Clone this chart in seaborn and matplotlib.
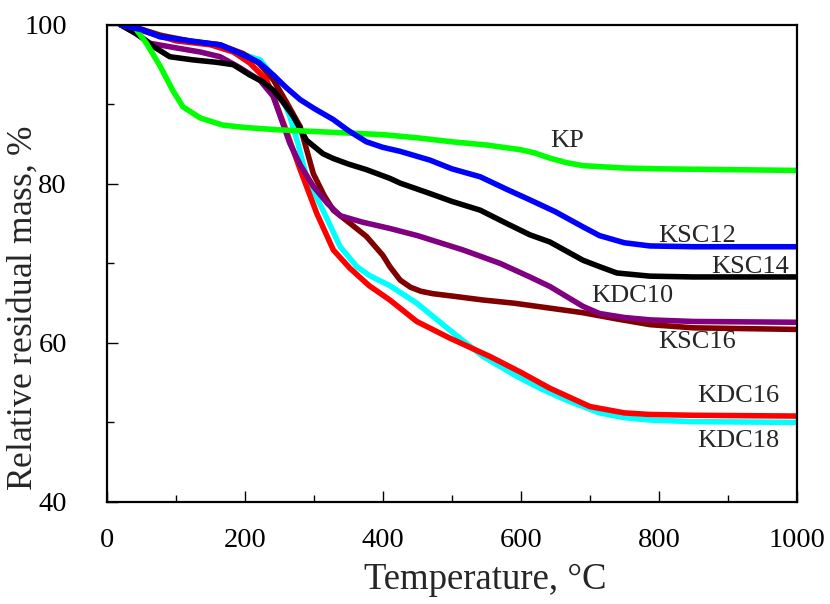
import numpy as np
import pandas as pd
import matplotlib
matplotlib.use("Agg")
import matplotlib.pyplot as plt
import seaborn as sns

# ---- data ----
kp_t = [20, 40, 57, 77, 95, 110, 135, 168, 200, 250, 300, 350, 400, 450, 500, 550, 600, 620, 640, 665, 690, 750, 800, 900, 1000]
kp_m = [100, 99.7, 97.7, 94.8, 91.8, 89.7, 88.3, 87.4, 87.1, 86.8, 86.6, 86.4, 86.2, 85.8, 85.3, 84.9, 84.3, 83.9, 83.3, 82.7, 82.3, 82.0, 81.9, 81.8, 81.7]

ksc12_t = [20, 50, 77, 120, 164, 193, 220, 241, 260, 280, 300, 328, 350, 376, 400, 425, 468, 500, 541, 580, 613, 650, 690, 714, 750, 787, 850, 1000]
ksc12_m = [100, 99.4, 98.5, 98.0, 97.5, 96.4, 95.3, 93.7, 92.1, 90.6, 89.5, 88.1, 86.7, 85.3, 84.6, 84.1, 83.0, 81.9, 80.9, 79.3, 78.0, 76.5, 74.6, 73.5, 72.6, 72.2, 72.1, 72.1]

ksc14_t = [20, 45, 67, 91, 125, 159, 183, 207, 225, 241, 255, 270, 289, 313, 328, 350, 376, 410, 425, 468, 500, 541, 580, 613, 642, 690, 714, 739, 787, 850, 1000]
ksc14_m = [100, 98.8, 97.3, 96.0, 95.6, 95.3, 95.0, 93.7, 92.9, 91.8, 90.3, 88.5, 85.5, 83.8, 83.2, 82.5, 81.8, 80.7, 80.1, 78.8, 77.8, 76.7, 75.0, 73.6, 72.7, 70.4, 69.6, 68.8, 68.4, 68.3, 68.3]

kdc10_t = [20, 40, 62, 101, 135, 164, 193, 222, 241, 265, 280, 299, 320, 338, 370, 410, 450, 516, 570, 613, 642, 665, 690, 714, 750, 787, 850, 1000]
kdc10_m = [100, 99.0, 97.7, 97.1, 96.6, 96.0, 94.6, 93.0, 91.0, 85.1, 82.4, 79.7, 77.5, 76.0, 75.2, 74.4, 73.5, 71.7, 70.0, 68.3, 67.1, 65.9, 64.6, 63.7, 63.2, 62.9, 62.7, 62.6]

ksc16_t = [20, 38, 77, 125, 164, 197, 220, 241, 260, 280, 299, 315, 328, 350, 376, 400, 410, 425, 440, 455, 472, 500, 545, 590, 640, 690, 740, 787, 850, 1000]
ksc16_m = [100, 99.8, 98.7, 97.9, 97.5, 96.4, 95.2, 93.1, 90.3, 87.2, 81.3, 78.5, 76.7, 75.2, 73.4, 71.0, 69.6, 67.9, 67.0, 66.5, 66.2, 65.9, 65.4, 65.0, 64.4, 63.8, 63.0, 62.3, 61.9, 61.7]

kdc16_t = [20, 50, 100, 150, 183, 207, 231, 241, 256, 280, 304, 328, 352, 380, 410, 449, 497, 555, 600, 642, 700, 750, 787, 850, 1000]
kdc16_m = [100, 99.3, 98.0, 97.5, 96.6, 95.2, 93.1, 91.0, 87.6, 81.8, 76.3, 71.7, 69.4, 67.2, 65.4, 62.7, 60.6, 58.3, 56.3, 54.3, 52.0, 51.2, 51.0, 50.9, 50.8]

kdc18_t = [20, 50, 100, 150, 190, 222, 241, 265, 277, 289, 313, 338, 362, 380, 410, 449, 497, 545, 594, 630, 666, 714, 750, 787, 850, 1000]
kdc18_m = [100, 99.4, 98.2, 97.6, 96.5, 95.6, 93.5, 88.5, 85.0, 80.9, 76.7, 72.1, 69.6, 68.5, 67.2, 65.0, 61.6, 58.3, 55.8, 54.2, 52.8, 51.2, 50.6, 50.3, 50.1, 50.0]

series_names = ["KDC18", "KDC16", "KSC16", "KDC10", "KSC14", "KP", "KSC12"]
series_t = [kdc18_t, kdc16_t, ksc16_t, kdc10_t, ksc14_t, kp_t, ksc12_t]
series_m = [kdc18_m, kdc16_m, ksc16_m, kdc10_m, ksc14_m, kp_m, ksc12_m]
colors = {"KP": "#00FF00", "KSC12": "#0000FF", "KSC14": "#000000", "KDC10": "#800080",
          "KSC16": "#800000", "KDC16": "#FF0000", "KDC18": "#00FFFF"}

rows = []
for name, ts, ms in zip(series_names, series_t, series_m):
    for t, m in zip(ts, ms):
        rows.append({"series": name, "T": t, "m": m})
df = pd.DataFrame(rows)

sns.set_style("white")
plt.rcParams["font.family"] = ["Liberation Serif", "DejaVu Serif"]
plt.rcParams["mathtext.fontset"] = "custom"
plt.rcParams["mathtext.rm"] = "Liberation Serif"
plt.rcParams["mathtext.it"] = "Liberation Serif:italic"

fig = plt.figure(figsize=(8.3, 6.04), dpi=100)
ax = fig.add_axes([0.129, 0.169, 0.831, 0.7897])

sns.lineplot(data=df, x="T", y="m", hue="series", hue_order=series_names,
             palette=colors, linewidth=4.0, legend=False, sort=False,
             estimator=None, ax=ax)

ax.set_xlim(0, 1000)
ax.set_ylim(40, 100)
ax.set_xticks(np.arange(0, 1001, 200))
ax.set_xticks(np.arange(100, 1000, 200), minor=True)
ax.set_yticks(np.arange(40, 101, 20))
ax.set_yticks(np.arange(50, 100, 20), minor=True)
ax.tick_params(which="both", direction="in", bottom=True, left=True, top=False, right=False,
               width=1, colors="black")
ax.tick_params(which="major", length=8, labelsize=20.5)
ax.tick_params(axis="x", which="major", pad=19)
ax.tick_params(axis="y", which="major", pad=29)
ax.tick_params(which="minor", length=5)
for s in ax.spines.values():
    s.set_linewidth(1.6)
    s.set_color("black")

ax.set_xlabel("Temperature, °C", fontsize=26.5)
ax.set_ylabel("Relative residual mass, $\\mathit{\\%}$", fontsize=25.5)
ax.xaxis.set_label_coords(0.548, -0.128)
ax.yaxis.set_label_coords(-0.098, 0.407)

labels = [("KP", 667, 85.4), ("KSC12", 855, 73.4), ("KSC14", 932, 69.6), ("KDC10", 761, 65.9),
          ("KSC16", 855, 60.1), ("KDC16", 915, 53.3), ("KDC18", 915, 47.7)]
for txt, x, y in labels:
    ax.text(x, y, txt, fontsize=19, ha="center", va="center")

fig.savefig("out.png", dpi=100)
